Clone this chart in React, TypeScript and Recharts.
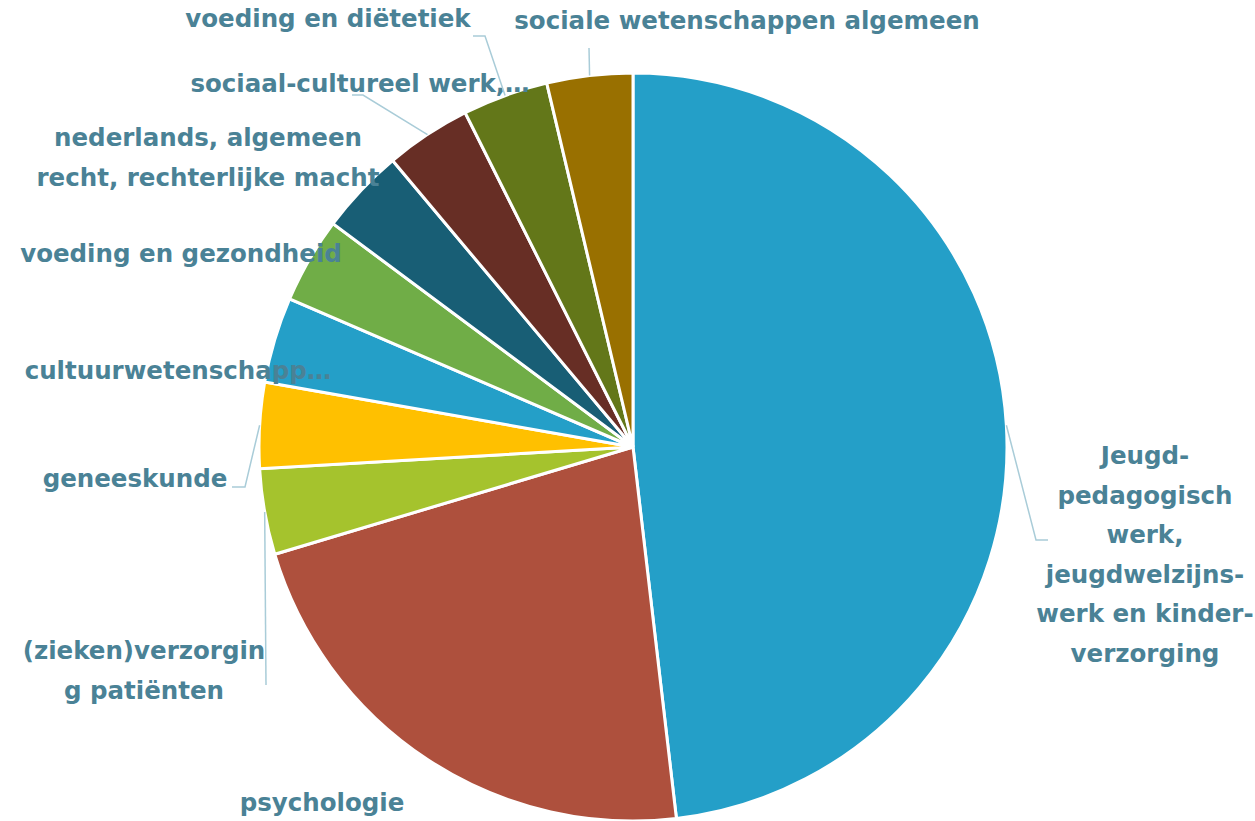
import { PieChart, Pie, Cell } from "recharts";

// categories, clockwise from 12 o'clock
const categories = [
  "Jeugd-pedagogisch werk, jeugdwelzijnswerk en kinderverzorging",
  "psychologie",
  "(zieken)verzorging patiënten",
  "geneeskunde",
  "cultuurwetenschapp…",
  "voeding en gezondheid",
  "nederlands, algemeen recht, rechterlijke macht",
  "sociaal-cultureel werk,…",
  "voeding en diëtetiek",
  "sociale wetenschappen algemeen",
];
const counts = [13, 6, 1, 1, 1, 1, 1, 1, 1, 1];
// how each label wraps in the picture
const labelLines = [
  ["Jeugd-", "pedagogisch", "werk,", "jeugdwelzijns-", "werk en kinder-", "verzorging"],
  ["psychologie"],
  ["(zieken)verzorgin", "g patiënten"],
  ["geneeskunde"],
  ["cultuurwetenschapp…"],
  ["voeding en gezondheid"],
  ["nederlands, algemeen", "recht, rechterlijke macht"],
  ["sociaal-cultureel werk,…"],
  ["voeding en diëtetiek"],
  ["sociale wetenschappen algemeen"],
];
const colors = [
  "#249FC8", "#AE503D", "#A5C32D", "#FFC000", "#249FC8",
  "#70AD47", "#185E75", "#672E25", "#637719", "#997000",
];

const data = categories.map((name, i) => ({ name, value: counts[i] }));

// label placement relative to pie centre: text centre, leader elbow / end
type Layout = { dx: number; dy: number; elbow?: [number, number]; end?: [number, number] };
const layout: Layout[] = [
  { dx: 512, dy: 8, elbow: [403, 93], end: [415, 93] },
  { dx: -311, dy: 355 },
  { dx: -489, dy: 203, elbow: [-367, 238] },
  { dx: -498, dy: 31, elbow: [-388, 40], end: [-401, 40] },
  { dx: -455, dy: -77 },
  { dx: -452, dy: -194 },
  { dx: -425, dy: -310 },
  { dx: -273, dy: -364, elbow: [-270, -352], end: [-281, -352] },
  { dx: -305, dy: -429, elbow: [-148, -411], end: [-160, -411] },
  { dx: 114, dy: -427, elbow: [-44, -399] },
];

const RAD = Math.PI / 180;
const LINE_H = 39.6;

function renderLabel(props: any) {
  const { cx, cy, midAngle, outerRadius, index } = props;
  const l = layout[index];
  const sx = cx + outerRadius * Math.cos(-midAngle * RAD);
  const sy = cy + outerRadius * Math.sin(-midAngle * RAD);
  const pts: string[] = [`${sx},${sy}`];
  if (l.elbow) pts.push(`${cx + l.elbow[0]},${cy + l.elbow[1]}`);
  if (l.end) pts.push(`${cx + l.end[0]},${cy + l.end[1]}`);
  return (
    <g key={`lbl-${index}`}>
      {l.elbow && (
        <polyline points={pts.join(" ")} fill="none" stroke="#A9CCD8" strokeWidth={1.5} />
      )}
      <text
        x={cx + l.dx}
        y={cy + l.dy}
        textAnchor="middle"
        dominantBaseline="central"
        fill="#4A8296"
        fontFamily="'DejaVu Sans', sans-serif"
        fontWeight={700}
        fontSize={24.5}
      >
        {labelLines[index].map((s, k) => (
          <tspan key={k} x={cx + l.dx} dy={k === 0 ? 0 : LINE_H}>
            {s}
          </tspan>
        ))}
      </text>
    </g>
  );
}

export default function App() {
  return (
    <div style={{ position: "absolute", left: 0, top: 0, width: 1255, height: 821, background: "#fff" }}>
      <PieChart width={1255} height={821} margin={{ top: 0, right: 0, bottom: 0, left: 0 }}>
        <Pie
          data={data}
          dataKey="value"
          nameKey="name"
          cx={633}
          cy={447}
          outerRadius={374}
          startAngle={90}
          endAngle={-270}
          stroke="#fff"
          strokeWidth={3}
          label={renderLabel}
          labelLine={false}
          isAnimationActive={false}
        >
          {data.map((d, i) => (
            <Cell key={d.name} fill={colors[i]} />
          ))}
        </Pie>
      </PieChart>
    </div>
  );
}
